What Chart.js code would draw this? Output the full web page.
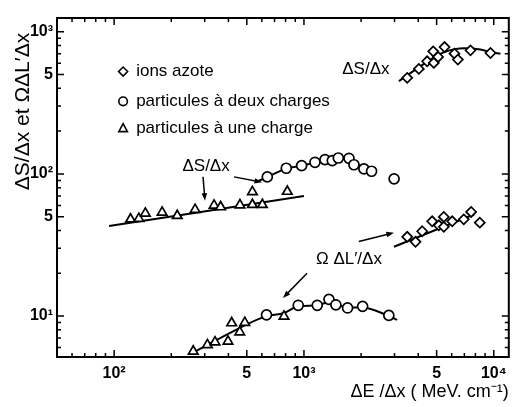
<!DOCTYPE html>
<html>
<head>
<meta charset="utf-8">
<script src="https://cdn.jsdelivr.net/npm/chart.js@4.4.1/dist/chart.umd.min.js"></script>
<style>
  html, body { margin: 0; padding: 0; background: #fff; }
</style>
</head>
<body>
<canvas id="chart" width="516" height="407"></canvas>
<script>
// values, x = dE/dx in MeV/cm
const azoteE = [3500, 4030, 4455, 4795, 4830, 5090, 5505, 6210, 6470, 7540, 9610];
const azoteS = [474, 548, 620, 728, 604, 665, 781, 701, 637, 740, 709];
const azoteLE = [3500, 3870, 4195, 4735, 5135, 5455, 5455, 6040, 6950, 7600, 8440];
const azoteL = [36.1, 33.3, 39.5, 46.4, 43.5, 49.8, 42.4, 46.4, 47.9, 54, 45.4];

const deuxE = [641, 807, 972, 1143, 1290, 1410, 1517, 1727, 1834, 2070, 2271, 2985];
const deuxS = [95.3, 109.6, 114.3, 120.7, 126, 124, 129.4, 128.8, 116, 108.4, 104.4, 92.3];
const deuxLE = [635, 933, 1175, 1354, 1473, 1697, 2037, 2800];
const deuxL = [10.2, 11.9, 11.9, 13.1, 12.0, 11.4, 11.7, 10.1];

const uneE = [122, 135, 146, 179, 215, 267, 336, 364, 460, 535, 604, 535, 817];
const uneS = [48, 48.4, 52.7, 53.6, 50.8, 56, 60, 58.5, 60.4, 60.7, 60.7, 74.8, 75.2];
const uneLE = [261, 310, 340, 398, 416, 459, 488, 785];
const uneL = [5.65, 6.27, 6.55, 6.63, 8.93, 7.71, 8.98, 9.95];

// hand drawn curves of the figure
const curveAzoteSE = [3162, 4500, 5500, 7000, 8500, 9610, 10840];
const curveAzoteS = [449, 620, 720, 765, 750, 720, 700];
const curveAzoteLE = [2980, 7900];
const curveAzoteL = [30.7, 52];
const curveDeuxSE = [557, 641, 807, 972, 1143, 1290, 1517, 1727, 1900, 2100, 2300];
const curveDeuxS = [87.5, 95, 109, 114, 120, 125, 128, 127, 118, 109, 103];
const curveLE = [265, 455, 628, 785, 933, 1175, 1354, 1706, 2028, 2800, 3097];
const curveL = [5.6, 8.2, 9.95, 10.5, 11.7, 11.9, 12.5, 11.5, 11.5, 10.0, 9.4];
const curveUneSE = [94, 1000];
const curveUneS = [43, 69.8];

// axes
const xLabelTicks = [100, 500, 1000, 5000, 10000];
const xLabels = ["10²", "5", "10³", "5", "10⁴"];
const xMinorTicks = [60, 70, 80, 90, 200, 300, 400, 600, 700, 800, 900,
    2000, 3000, 4000, 6000, 7000, 8000, 9000];
const yLabelTicks = [10, 50, 100, 500, 1000];
const yLabels = ["10¹", "5", "10²", "5", "10³"];
const yMinorTicks = [6, 7, 8, 9, 20, 30, 40, 60, 70, 80, 90,
    200, 300, 400, 600, 700, 800, 900];

const FONT = '"Liberation Sans", Arial, Helvetica, sans-serif';

function pts(xs, ys) {
    return xs.map((x, i) => ({ x: x, y: ys[i] }));
}

function markers(label, xs, ys, style, radius) {
    return {
        label: label,
        data: pts(xs, ys),
        showLine: false,
        pointStyle: style,
        pointRadius: radius,
        pointBorderWidth: 1.7,
        pointBorderColor: "#000",
        pointBackgroundColor: "#fff",
    };
}

function curve(xs, ys) {
    return {
        label: "curve",
        data: pts(xs, ys),
        showLine: true,
        pointRadius: 0,
        borderColor: "#000",
        borderWidth: 2,
        cubicInterpolationMode: "monotone",
    };
}

function drawArrow(ctx, x1, y1, x2, y2) {
    const ang = Math.atan2(y2 - y1, x2 - x1);
    const len = 8;
    ctx.beginPath();
    ctx.moveTo(x1, y1);
    ctx.lineTo(x2 - Math.cos(ang) * 4, y2 - Math.sin(ang) * 4);
    ctx.stroke();
    ctx.beginPath();
    ctx.moveTo(x2, y2);
    ctx.lineTo(x2 - len * Math.cos(ang - 0.35), y2 - len * Math.sin(ang - 0.35));
    ctx.lineTo(x2 - len * Math.cos(ang + 0.35), y2 - len * Math.sin(ang + 0.35));
    ctx.closePath();
    ctx.fill();
}

const decor = {
    id: "decor",
    afterDraw(chart) {
        const ctx = chart.ctx;
        const a = chart.chartArea;
        const sx = chart.scales.x;
        const sy = chart.scales.y;
        const px = v => sx.getPixelForValue(v);
        const py = v => sy.getPixelForValue(v);

        ctx.save();
        ctx.strokeStyle = "#000";
        ctx.fillStyle = "#000";

        // frame
        ctx.lineWidth = 2;
        ctx.strokeRect(a.left, a.top, a.right - a.left, a.bottom - a.top);

        // inward ticks on all four sides
        ctx.lineWidth = 1.5;
        const xTicks = (vals, len) => vals.forEach(v => {
            const p = px(v);
            ctx.beginPath();
            ctx.moveTo(p, a.bottom); ctx.lineTo(p, a.bottom - len);
            ctx.moveTo(p, a.top); ctx.lineTo(p, a.top + len);
            ctx.stroke();
        });
        const yTicks = (vals, len) => vals.forEach(v => {
            const p = py(v);
            ctx.beginPath();
            ctx.moveTo(a.left, p); ctx.lineTo(a.left + len, p);
            ctx.moveTo(a.right, p); ctx.lineTo(a.right - len, p);
            ctx.stroke();
        });
        xTicks(xMinorTicks, 4);
        xTicks(xLabelTicks, 7);
        yTicks(yMinorTicks, 4);
        yTicks(yLabelTicks, 7);

        // legend
        ctx.lineWidth = 1.6;
        const lx = px(111.5);
        const rows = [py(525), py(324), py(210)];
        ctx.beginPath();
        ctx.moveTo(lx, rows[0] - 4.5); ctx.lineTo(lx + 4.5, rows[0]);
        ctx.lineTo(lx, rows[0] + 4.5); ctx.lineTo(lx - 4.5, rows[0]);
        ctx.closePath();
        ctx.stroke();
        ctx.beginPath();
        ctx.arc(lx, rows[1], 4.3, 0, Math.PI * 2);
        ctx.stroke();
        ctx.beginPath();
        ctx.moveTo(lx, rows[2] - 4.5); ctx.lineTo(lx + 4.3, rows[2] + 3.5);
        ctx.lineTo(lx - 4.3, rows[2] + 3.5);
        ctx.closePath();
        ctx.stroke();

        ctx.font = "17px " + FONT;
        ctx.textAlign = "left";
        ctx.textBaseline = "middle";
        const tx = px(130.6);
        ctx.fillText("ions azote", tx, rows[0]);
        ctx.fillText("particules à deux charges", tx, rows[1]);
        ctx.fillText("particules à une charge", tx, rows[2]);

        // curve labels
        ctx.font = "17px " + FONT;
        ctx.textAlign = "center";
        ctx.fillText("ΔS/Δx", px(2120), py(542));
        ctx.fillText("ΔS/Δx", px(305), py(114));
        ctx.fillText("Ω ΔL′/Δx", px(1726), py(25.1));

        ctx.lineWidth = 1.5;
        drawArrow(ctx, px(428), py(95.3), px(601), py(87.3));
        drawArrow(ctx, px(294), py(95.3), px(301), py(64.7));
        drawArrow(ctx, px(1945), py(33.4), px(2977), py(38.6));
        drawArrow(ctx, px(1038), py(20), px(775), py(13.4));

        // y axis title
        ctx.save();
        ctx.translate(a.left - 34, py(275));
        ctx.rotate(-Math.PI / 2);
        ctx.font = "21px " + FONT;
        ctx.textAlign = "center";
        ctx.textBaseline = "middle";
        ctx.fillText("ΔS/Δx et ΩΔL′Δx", 0, 0);
        ctx.restore();

        ctx.restore();
    }
};

new Chart(document.getElementById("chart"), {
    type: "scatter",
    data: {
        datasets: [
            markers("ions azote", azoteE, azoteS, "rectRot", 5),
            markers("ions azote", azoteLE, azoteL, "rectRot", 5),
            markers("particules à deux charges", deuxE, deuxS, "circle", 5),
            markers("particules à deux charges", deuxLE, deuxL, "circle", 5),
            markers("particules à une charge", uneE, uneS, "triangle", 5.5),
            markers("particules à une charge", uneLE, uneL, "triangle", 5.5),
            curve(curveAzoteSE, curveAzoteS),
            curve(curveAzoteLE, curveAzoteL),
            curve(curveDeuxSE, curveDeuxS),
            curve(curveLE, curveL),
            curve(curveUneSE, curveUneS),
        ]
    },
    options: {
        responsive: false,
        animation: false,
        layout: { padding: { left: 0, top: 18, right: 6, bottom: 0 } },
        plugins: {
            legend: { display: false },
            tooltip: { enabled: false },
        },
        scales: {
            x: {
                type: "logarithmic",
                min: 50,
                max: 12000,
                afterFit: s => { s.height = 50; },
                afterBuildTicks: s => { s.ticks = xLabelTicks.map(v => ({ value: v })); },
                grid: { display: false, drawTicks: false },
                border: { display: false },
                ticks: {
                    padding: 7,
                    maxRotation: 0,
                    autoSkip: false,
                    color: "#000",
                    font: { family: FONT, size: 16, weight: "bold" },
                    callback: v => xLabels[xLabelTicks.indexOf(v)],
                },
                title: {
                    display: true,
                    text: "ΔE /Δx ( MeV. cm⁻¹)",
                    align: "end",
                    color: "#000",
                    font: { family: FONT, size: 18 },
                    padding: { top: 0, bottom: 4 },
                },
            },
            y: {
                type: "logarithmic",
                min: 5.15,
                max: 1250,
                afterFit: s => { s.width = 57; },
                afterBuildTicks: s => { s.ticks = yLabelTicks.map(v => ({ value: v })); },
                grid: { display: false, drawTicks: false },
                border: { display: false },
                ticks: {
                    padding: 4,
                    autoSkip: false,
                    color: "#000",
                    font: { family: FONT, size: 16, weight: "bold" },
                    callback: v => yLabels[yLabelTicks.indexOf(v)],
                },
            },
        },
    },
    plugins: [decor],
});
</script>
</body>
</html>
